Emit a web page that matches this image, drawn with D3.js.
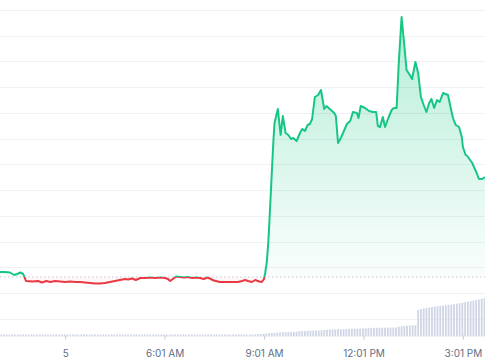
<!DOCTYPE html>
<html>
<head>
<meta charset="utf-8">
<script src="https://cdn.jsdelivr.net/npm/d3@7"></script>
<style>
    body { margin: 0; background: #fff; }
    svg { display: block; }
</style>
</head>
<body>
<svg id="chart" width="485" height="360"></svg>
<script>
//price readings (time of day, price)
var priceTimes = ["01:03","01:12","01:21","01:29","01:34","01:40","01:45","01:50","02:01","02:12",
    "02:19","02:27","02:34","02:43","02:52","03:01","03:10","03:19","03:28","03:37",
    "03:46","03:55","04:04","04:13","04:22","04:31","04:40","04:50","04:55","05:02",
    "05:09","05:17","05:26","05:35","05:44","05:53","06:02","06:07","06:11","06:16",
    "06:22","06:29","06:36","06:43","06:51","06:58","07:05","07:12","07:18","07:23",
    "07:30","07:41","07:52","08:03","08:14","08:21","08:27","08:32","08:39","08:45",
    "08:52","08:57","09:01","09:03","09:06","09:09","09:12","09:15","09:18","09:20",
    "09:26","09:31","09:35","09:40","09:45","09:50","09:54","10:00","10:06","10:10",
    "10:15","10:20","10:24","10:28","10:33","10:39","10:44","10:50","10:54","11:00",
    "11:08","11:11","11:15","11:20","11:24","11:31","11:37","11:42","11:49","11:52",
    "11:56","12:04","12:11","12:18","12:24","12:27","12:31","12:36","12:40","12:46",
    "12:52","12:56","13:01","13:05","13:10","13:14","13:19","13:25","13:29","13:35",
    "13:40","13:45","13:50","13:55","14:00","14:04","14:09","14:14","14:19","14:25",
    "14:34","14:39","14:43","14:48","14:54","14:59","15:01","15:06","15:09","15:14",
    "15:18","15:21","15:26","15:30","15:36","15:41"];

var prices = [0.1047,0.1047,0.10465,0.1044,0.1045,0.10465,0.1045,0.1038,0.10375,0.1038,
    0.10365,0.1038,0.1037,0.1038,0.10375,0.1037,0.10375,0.1037,0.1037,0.10365,
    0.1036,0.10355,0.10355,0.1036,0.1037,0.1038,0.1039,0.1040,0.10395,0.10405,
    0.1039,0.1041,0.1041,0.10415,0.1041,0.10415,0.1041,0.1040,0.1038,0.1040,
    0.10425,0.1042,0.10415,0.1042,0.1041,0.10415,0.1041,0.1040,0.10415,0.10405,
    0.10385,0.1037,0.1037,0.1037,0.1037,0.1038,0.1039,0.1038,0.1037,0.1039,
    0.10375,0.1037,0.1040,0.1046,0.1057,0.1079,0.1112,0.1146,0.1179,0.1196,
    0.1210,0.1184,0.1203,0.1186,0.1184,0.1180,0.1181,0.1178,0.1186,0.1190,
    0.1188,0.1194,0.1195,0.1200,0.1222,0.1224,0.1229,0.1210,0.1213,0.1210,
    0.1206,0.1203,0.1176,0.1181,0.1186,0.1195,0.1198,0.1207,0.1206,0.1201,
    0.1213,0.1211,0.1208,0.1207,0.1207,0.1193,0.1192,0.1202,0.1192,0.1201,
    0.1209,0.1211,0.1211,0.1257,0.1302,0.1279,0.1249,0.1244,0.1240,0.1257,
    0.1246,0.1222,0.1214,0.1207,0.1216,0.1220,0.1211,0.1219,0.1217,0.1226,
    0.1224,0.1211,0.1201,0.1194,0.1192,0.1182,0.1172,0.1164,0.1163,0.1159,
    0.1156,0.1152,0.1146,0.1140,0.1140,0.1142];

//price 24h earlier, splits green / red
var openPrice = 0.1042;

//volume, one bar every 5 minutes from 01:05
var volumeStart = "01:05";
var volumes = [2,2,2,1.9,2,2,2.1,2,2,2,
    1.9,2,2,2,2,2.1,2,2,1.9,2,
    2,2,2.1,2,2,1.9,2,2,2,2,
    2,2.1,2,2,2,1.9,2,2,2,2,
    2,2,2,2.1,2,2,2,1.9,2,2,
    2,2,2,2,2.1,2,2,2,2,1.9,
    2,2,2,2,2,2.1,2,2,2,2,
    1.9,2,2,2,2,2,2.1,2,2,2,
    2,2,1.9,2,2,2,2.1,2,2,2,
    2,2,2.1,
    2.4,2.5,2.7,
    3.2,3.4,3.5,3.5,3.8,
    4.2,4.3,4.4,4.5,4.5,4.6,4.8,
    5.3,5.4,5.5,5.6,5.8,5.9,6.0,6.1,6.3,6.5,6.7,
    7.0,7.1,7.2,7.3,7.3,7.4,7.5,7.6,7.7,7.8,7.9,8.0,8.1,8.2,8.3,
    8.6,8.7,8.7,8.8,8.8,8.8,8.9,8.9,9.0,9.0,
    10.0,10.3,10.6,10.8,11.0,11.2,11.3,
    26.5,27.5,28,28.5,29,29.5,30,30.3,30.6,31,31.3,31.6,32,32.3,32.8,
    33.3,33.8,34.3,34.8,35.3,35.8,36.5,37,37.8,38.3];

//x axis
var tickTimes = ["03:01","06:01","09:01","12:01","15:01"];
var tickLabels = ["5","6:01 AM","9:01 AM","12:01 PM","3:01 PM"];

var w = 485,
    h = 360,
    green = "#16c784",
    red = "#ea3943";

var parseTime = d3.timeParse("%Y-%m-%d %H:%M");
function toDate(s) { return parseTime("2024-01-05 " + s); }

var priceData = priceTimes.map(function (t, i) { return {date: toDate(t), price: prices[i]}; });

var t0 = toDate(volumeStart);
var volumeData = volumes.map(function (v, i) { return {date: d3.timeMinute.offset(t0, i * 5), volume: v}; });

var x = d3.scaleTime()
    .domain([toDate("01:03"), toDate("15:41")])
    .range([0, w]);

var y = d3.scaleLinear()
    .domain([0.1000, 0.1309])
    .range([319, 10]);

var yVol = d3.scaleLinear()
    .domain([0, 40])
    .range([336.5, 296.5]);

var svg = d3.select("#chart");
var defs = svg.append("defs");
var yBase = y(openPrice);

//clip above / below open price
defs.append("clipPath").attr("id", "clip-up")
    .append("rect").attr("x", 0).attr("y", 0).attr("width", w).attr("height", yBase);
defs.append("clipPath").attr("id", "clip-down")
    .append("rect").attr("x", 0).attr("y", yBase).attr("width", w).attr("height", h - yBase);

var grad = defs.append("linearGradient")
    .attr("id", "grad-up")
    .attr("gradientUnits", "userSpaceOnUse")
    .attr("x1", 0).attr("x2", 0)
    .attr("y1", y(d3.max(prices))).attr("y2", yBase);
grad.append("stop").attr("offset", "0%").attr("stop-color", green).attr("stop-opacity", 0.32);
grad.append("stop").attr("offset", "100%").attr("stop-color", green).attr("stop-opacity", 0.02);

//gridlines
var gridValues = d3.range(13).map(function (k) { return 0.1 + k * 0.002575; });
svg.append("g").attr("class", "grid")
    .selectAll("line")
    .data(gridValues)
    .enter()
    .append("line")
    .attr("x1", 0).attr("x2", w)
    .attr("y1", function (d) { return Math.round(y(d)) + 0.5; })
    .attr("y2", function (d) { return Math.round(y(d)) + 0.5; })
    .attr("stroke", "#eff1f4")
    .attr("stroke-width", 1);

//volume bars
svg.append("g").attr("class", "volume")
    .selectAll("rect")
    .data(volumeData)
    .enter()
    .append("rect")
    .attr("x", function (d) { return x(d.date) - 0.9; })
    .attr("width", 1.8)
    .attr("y", function (d) { return yVol(d.volume); })
    .attr("height", function (d) { return yVol(0) - yVol(d.volume); })
    .attr("fill", "#d0d6e5");

//area + line
var area = d3.area()
    .x(function (d) { return x(d.date); })
    .y0(yBase)
    .y1(function (d) { return y(d.price); });

var line = d3.line()
    .x(function (d) { return x(d.date); })
    .y(function (d) { return y(d.price); });

svg.append("path")
    .datum(priceData)
    .attr("d", area)
    .attr("fill", "url(#grad-up)")
    .attr("clip-path", "url(#clip-up)");

svg.append("path")
    .datum(priceData)
    .attr("d", area)
    .attr("fill", red)
    .attr("fill-opacity", 0.04)
    .attr("clip-path", "url(#clip-down)");

//open price dotted line
svg.append("line")
    .attr("x1", 0).attr("x2", w)
    .attr("y1", yBase).attr("y2", yBase)
    .attr("stroke", "#c3c8d0")
    .attr("stroke-width", 1)
    .attr("stroke-dasharray", "1.5,2.5");

svg.append("path")
    .datum(priceData)
    .attr("d", line)
    .attr("fill", "none")
    .attr("stroke", green)
    .attr("stroke-width", 2)
    .attr("stroke-linejoin", "round")
    .attr("clip-path", "url(#clip-up)");

svg.append("path")
    .datum(priceData)
    .attr("d", line)
    .attr("fill", "none")
    .attr("stroke", red)
    .attr("stroke-width", 2)
    .attr("stroke-linejoin", "round")
    .attr("clip-path", "url(#clip-down)");

//x axis ticks and labels
var xAxis = d3.axisBottom(x)
    .tickValues(tickTimes.map(toDate))
    .tickSize(4)
    .tickPadding(10)
    .tickFormat(function (d, i) { return tickLabels[i]; });

var axisG = svg.append("g")
    .attr("class", "x-axis")
    .attr("transform", "translate(0,335.5)")
    .call(xAxis);

axisG.select(".domain").remove();
axisG.selectAll(".tick line").attr("stroke", "#c6cbd3");
axisG.selectAll(".tick text")
    .attr("fill", "#616e85")
    .attr("font-family", "Inter, 'Noto Sans', sans-serif")
    .attr("font-size", "10px");
</script>
</body>
</html>
